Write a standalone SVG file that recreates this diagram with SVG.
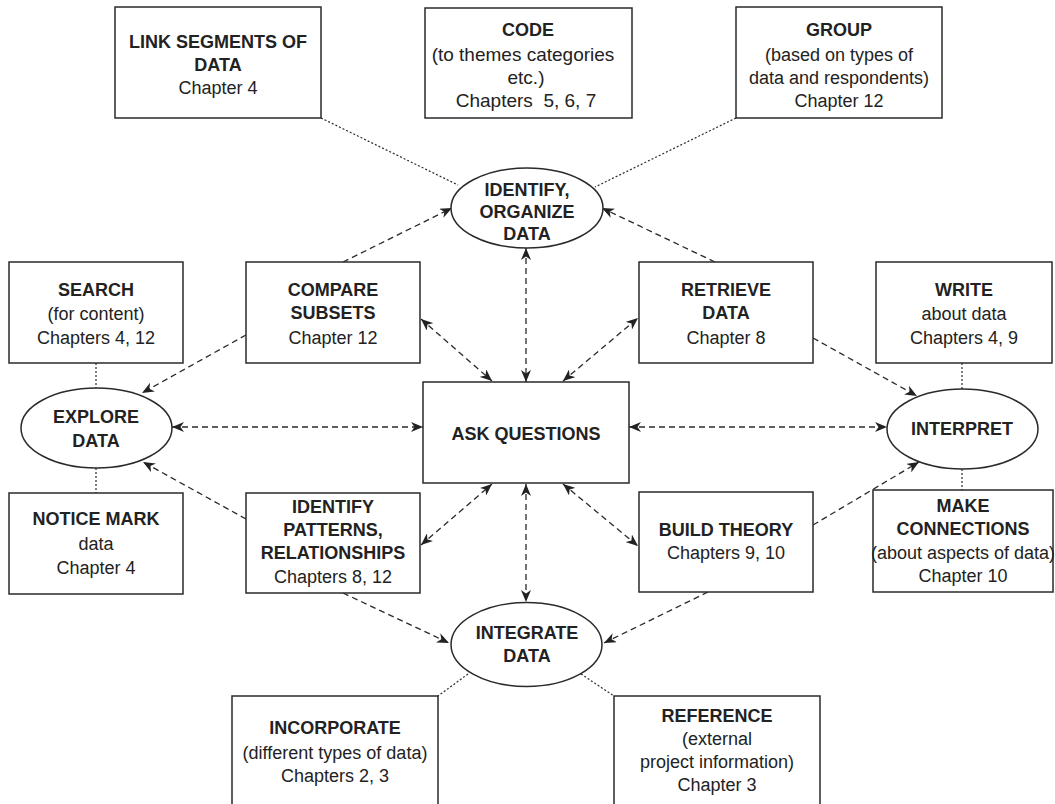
<svg xmlns="http://www.w3.org/2000/svg" width="1055" height="804" viewBox="0 0 1055 804">
  <style>
    .box { fill: #ffffff; stroke: #2a2a2a; stroke-width: 1.5; }
    .oval { fill: #ffffff; stroke: #2a2a2a; stroke-width: 1.5; }
    text { font-family: "Liberation Sans", Arial, Helvetica, sans-serif; font-size: 18px; fill: #222222; text-anchor: middle; }
    .b { font-weight: bold; }
    .big { font-size: 19px; }
    .pre { white-space: pre; }
    .dash { fill: none; stroke: #2a2a2a; stroke-width: 1.3; stroke-dasharray: 6 4; }
    .dot { fill: none; stroke: #2a2a2a; stroke-width: 1.2; stroke-dasharray: 2 2; }
  </style>
  <defs>
    <marker id="arrow" viewBox="0 0 12 10" refX="12" refY="5" markerWidth="12" markerHeight="10" markerUnits="userSpaceOnUse" orient="auto-start-reverse">
      <path d="M0,0 L12,5 L0,10 L3.5,5 Z" fill="#222222"/>
    </marker>
  </defs>
  <rect width="1055" height="804" fill="#ffffff"/>

  <!-- connectors -->
  <g id="connectors">
    <!-- dotted attachments -->
    <line class="dot" x1="321" y1="118" x2="458" y2="185"/>
    <line class="dot" x1="736" y1="118" x2="595" y2="187"/>
    <line class="dot" x1="96" y1="363" x2="96" y2="388"/>
    <line class="dot" x1="96" y1="468" x2="96" y2="493"/>
    <line class="dot" x1="962" y1="363" x2="962" y2="389"/>
    <line class="dot" x1="962" y1="469" x2="962" y2="490"/>
    <line class="dot" x1="468" y1="674" x2="438" y2="696"/>
    <line class="dot" x1="581" y1="674" x2="614" y2="696"/>

    <!-- one-way dashed arrows -->
    <line class="dash" x1="343" y1="262" x2="452" y2="208" marker-end="url(#arrow)"/>
    <line class="dash" x1="246" y1="335" x2="142" y2="393" marker-end="url(#arrow)"/>
    <line class="dash" x1="246" y1="519" x2="143" y2="462" marker-end="url(#arrow)"/>
    <line class="dash" x1="715" y1="262" x2="602" y2="208" marker-end="url(#arrow)"/>
    <line class="dash" x1="813" y1="338" x2="917" y2="396" marker-end="url(#arrow)"/>
    <line class="dash" x1="813" y1="525" x2="919" y2="462" marker-end="url(#arrow)"/>
    <line class="dash" x1="343" y1="593" x2="449" y2="643" marker-end="url(#arrow)"/>
    <line class="dash" x1="708" y1="592" x2="604" y2="643" marker-end="url(#arrow)"/>

    <!-- two-way dashed arrows -->
    <line class="dash" x1="172" y1="427" x2="423" y2="427" marker-start="url(#arrow)" marker-end="url(#arrow)"/>
    <line class="dash" x1="421" y1="319" x2="492" y2="381" marker-start="url(#arrow)" marker-end="url(#arrow)"/>
    <line class="dash" x1="526" y1="248" x2="526" y2="382" marker-start="url(#arrow)" marker-end="url(#arrow)"/>
    <line class="dash" x1="421" y1="545" x2="492" y2="484" marker-start="url(#arrow)" marker-end="url(#arrow)"/>
    <line class="dash" x1="526" y1="484" x2="526" y2="602" marker-start="url(#arrow)" marker-end="url(#arrow)"/>
    <line class="dash" x1="563" y1="484" x2="638" y2="546" marker-start="url(#arrow)" marker-end="url(#arrow)"/>
    <line class="dash" x1="563" y1="381" x2="638" y2="318" marker-start="url(#arrow)" marker-end="url(#arrow)"/>
    <line class="dash" x1="629" y1="427" x2="887" y2="427" marker-start="url(#arrow)" marker-end="url(#arrow)"/>
  </g>

  <!-- top row -->
  <g id="link-segments">
    <rect class="box" x="115" y="7" width="206" height="111"/>
    <text class="b" x="218" y="48">LINK SEGMENTS OF</text>
    <text class="b" x="218" y="71">DATA</text>
    <text x="218" y="94">Chapter 4</text>
  </g>
  <g id="code">
    <rect class="box" x="425" y="8" width="207" height="110"/>
    <text class="b" x="528" y="36">CODE</text>
    <text class="big" x="523" y="61">(to themes categories</text>
    <text class="big" x="526" y="84">etc.)</text>
    <text class="big pre" x="526" y="107">Chapters  5, 6, 7</text>
  </g>
  <g id="group">
    <rect class="box" x="736" y="7" width="206" height="111"/>
    <text class="b" x="839" y="36">GROUP</text>
    <text x="839" y="61">(based on types of</text>
    <text x="839" y="84">data and respondents)</text>
    <text x="839" y="107">Chapter 12</text>
  </g>

  <g id="identify-organize">
    <ellipse class="oval" cx="527" cy="208" rx="76" ry="40"/>
    <text class="b" x="527" y="196">IDENTIFY,</text>
    <text class="b" x="527" y="218">ORGANIZE</text>
    <text class="b" x="527" y="240">DATA</text>
  </g>

  <!-- second row -->
  <g id="search">
    <rect class="box" x="9" y="262" width="174" height="101"/>
    <text class="b" x="96" y="296">SEARCH</text>
    <text x="96" y="320">(for content)</text>
    <text x="96" y="344">Chapters 4, 12</text>
  </g>
  <g id="compare-subsets">
    <rect class="box" x="246" y="262" width="174" height="101"/>
    <text class="b" x="333" y="296">COMPARE</text>
    <text class="b" x="333" y="319">SUBSETS</text>
    <text x="333" y="344">Chapter 12</text>
  </g>
  <g id="retrieve-data">
    <rect class="box" x="639" y="262" width="174" height="101"/>
    <text class="b" x="726" y="296">RETRIEVE</text>
    <text class="b" x="726" y="319">DATA</text>
    <text x="726" y="344">Chapter 8</text>
  </g>
  <g id="write">
    <rect class="box" x="876" y="262" width="176" height="101"/>
    <text class="b" x="964" y="296">WRITE</text>
    <text x="964" y="320">about data</text>
    <text x="964" y="344">Chapters 4, 9</text>
  </g>

  <!-- middle row -->
  <g id="explore-data">
    <ellipse class="oval" cx="96.5" cy="428" rx="75.5" ry="40"/>
    <text class="b" x="96" y="423">EXPLORE</text>
    <text class="b" x="96" y="447">DATA</text>
  </g>
  <g id="ask-questions">
    <rect class="box" x="423" y="382" width="206" height="101"/>
    <text class="b" x="526" y="440">ASK QUESTIONS</text>
  </g>
  <g id="interpret">
    <ellipse class="oval" cx="962.5" cy="429" rx="75.5" ry="40"/>
    <text class="b" x="962" y="435">INTERPRET</text>
  </g>

  <!-- fourth row -->
  <g id="notice-mark">
    <rect class="box" x="9" y="493" width="174" height="101"/>
    <text class="b" x="96" y="525">NOTICE MARK</text>
    <text x="96" y="550">data</text>
    <text x="96" y="574">Chapter 4</text>
  </g>
  <g id="identify-patterns">
    <rect class="box" x="246" y="493" width="174" height="100"/>
    <text class="b" x="333" y="513">IDENTIFY</text>
    <text class="b" x="333" y="536">PATTERNS,</text>
    <text class="b" x="333" y="559">RELATIONSHIPS</text>
    <text x="333" y="583">Chapters 8, 12</text>
  </g>
  <g id="build-theory">
    <rect class="box" x="639" y="492" width="174" height="100"/>
    <text class="b" x="726" y="536">BUILD THEORY</text>
    <text x="726" y="559">Chapters 9, 10</text>
  </g>
  <g id="make-connections">
    <rect class="box" x="873" y="490" width="180" height="102"/>
    <text class="b" x="963" y="512">MAKE</text>
    <text class="b" x="963" y="535">CONNECTIONS</text>
    <text x="963" y="559">(about aspects of data)</text>
    <text x="963" y="582">Chapter 10</text>
  </g>

  <!-- bottom -->
  <g id="integrate-data">
    <ellipse class="oval" cx="526.5" cy="644.5" rx="75.5" ry="42"/>
    <text class="b" x="527" y="639">INTEGRATE</text>
    <text class="b" x="527" y="662">DATA</text>
  </g>
  <g id="incorporate">
    <rect class="box" x="232" y="696" width="206" height="130"/>
    <text class="b" x="335" y="734">INCORPORATE</text>
    <text x="335" y="759">(different types of data)</text>
    <text x="335" y="782">Chapters 2, 3</text>
  </g>
  <g id="reference">
    <rect class="box" x="614" y="696" width="206" height="130"/>
    <text class="b" x="717" y="722">REFERENCE</text>
    <text x="717" y="745">(external</text>
    <text x="717" y="768">project information)</text>
    <text x="717" y="791">Chapter 3</text>
  </g>
</svg>
